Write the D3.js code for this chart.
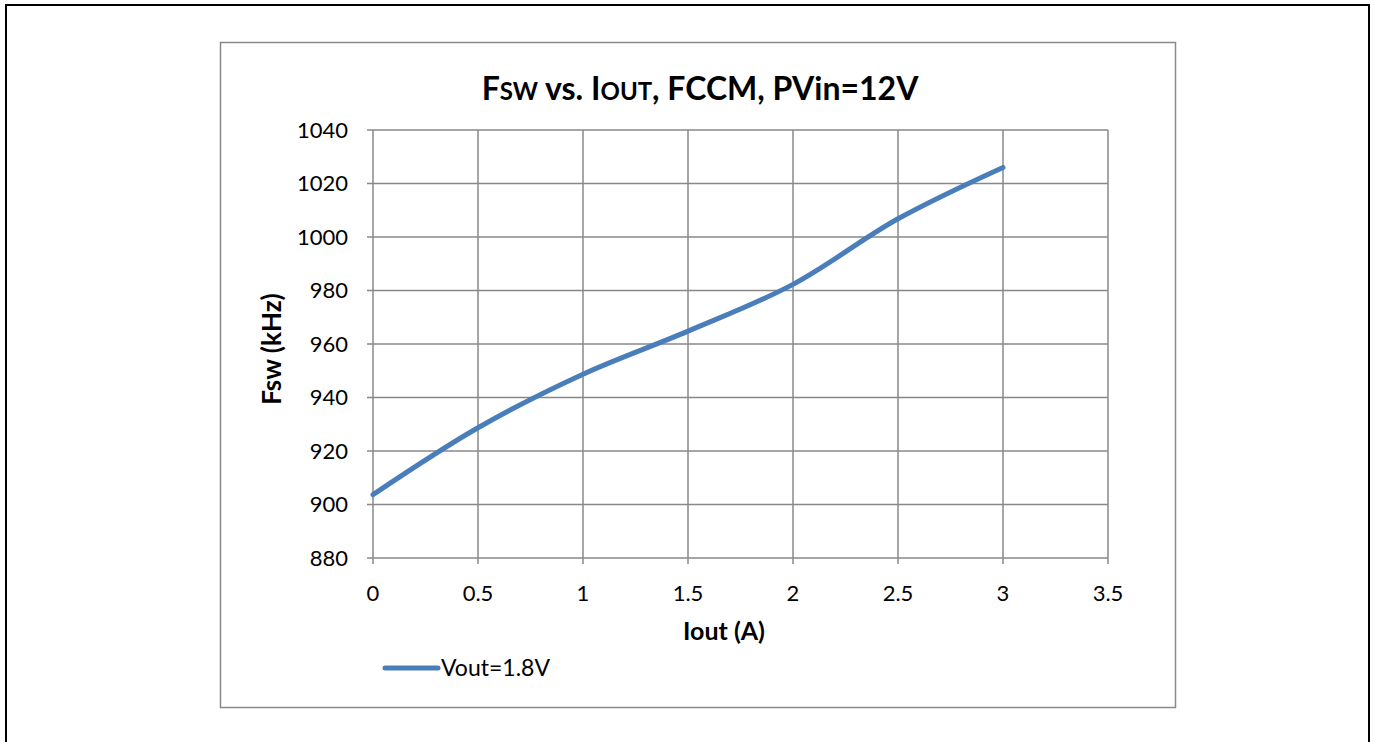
<!DOCTYPE html>
<html>
<head>
    <meta charset="utf-8" />
    <title>Fsw vs. Iout</title>
    <script src="https://cdn.jsdelivr.net/npm/d3@7"></script>
    <style>
        body { margin: 0; background: #fff; }
        svg text { font-family: Lato, "Open Sans", sans-serif; fill: #000; }
    </style>
</head>
<body>
    <svg width="1375" height="742"></svg>
    <script>
        // data
        var iout = [0, 0.5, 1, 1.5, 2, 2.5, 3];
        var fsw = [903.7, 928.7, 948.7, 964.8, 982.3, 1006.8, 1026];
        var xTicks = [0, 0.5, 1, 1.5, 2, 2.5, 3, 3.5];
        var yTicks = [880, 900, 920, 940, 960, 980, 1000, 1020, 1040];
        var seriesName = 'Vout=1.8V';

        var svg = d3.select('svg');

        // outer page frame and chart box
        svg.append('rect').attr('x', 6).attr('y', 5).attr('width', 1363).attr('height', 760)
            .attr('fill', 'none').attr('stroke', '#000').attr('stroke-width', 2);
        svg.append('rect').attr('x', 220.5).attr('y', 42.5).attr('width', 955).attr('height', 665)
            .attr('fill', '#fff').attr('stroke', '#898989').attr('stroke-width', 1.5);

        var x = d3.scaleLinear().domain([0, 3.5]).range([373, 1108]);
        var y = d3.scaleLinear().domain([880, 1040]).range([558, 130]);

        // gridlines
        svg.append('g').selectAll('line').data(xTicks).enter().append('line')
            .attr('x1', function (d) { return x(d); }).attr('x2', function (d) { return x(d); })
            .attr('y1', y(1040)).attr('y2', y(880) + 6)
            .attr('stroke', '#888').attr('stroke-width', 1.5);
        svg.append('g').selectAll('line').data(yTicks).enter().append('line')
            .attr('x1', x(0) - 6).attr('x2', x(3.5))
            .attr('y1', function (d) { return y(d); }).attr('y2', function (d) { return y(d); })
            .attr('stroke', '#888').attr('stroke-width', 1.5);

        // tick labels
        svg.append('g').selectAll('text').data(yTicks).enter().append('text')
            .attr('x', 348).attr('y', function (d) { return y(d); })
            .attr('dy', '0.35em').attr('text-anchor', 'end')
            .style('font-size', '22px').text(function (d) { return d; });
        svg.append('g').selectAll('text').data(xTicks).enter().append('text')
            .attr('x', function (d) { return x(d); }).attr('y', 593)
            .attr('dy', '0.35em').attr('text-anchor', 'middle')
            .style('font-size', '22px').text(function (d) { return d; });

        // series
        var line = d3.line()
            .x(function (d, i) { return x(iout[i]); })
            .y(function (d) { return y(d); })
            .curve(d3.curveCatmullRom.alpha(0.5));
        svg.append('path').datum(fsw).attr('d', line)
            .attr('fill', 'none').attr('stroke', '#4A7EBB').attr('stroke-width', 5)
            .attr('stroke-linecap', 'round');

        // title with small caps subscripts
        var title = svg.append('text').attr('x', 700).attr('y', 100).attr('text-anchor', 'middle')
            .style('font-size', '32px').style('font-weight', 'bold');
        title.append('tspan').text('F');
        title.append('tspan').style('font-size', '24px').text('SW');
        title.append('tspan').text(' vs. I');
        title.append('tspan').style('font-size', '24px').text('OUT');
        title.append('tspan').text(', FCCM, PVin=12V');

        // axis titles
        svg.append('text').attr('transform', 'translate(272,349) rotate(-90)')
            .attr('dy', '0.35em')
            .attr('text-anchor', 'middle').style('font-size', '26px').style('font-weight', 'bold')
            .text('Fsw (kHz)');
        svg.append('text').attr('x', 724).attr('y', 631).attr('dy', '0.35em')
            .attr('text-anchor', 'middle').style('font-size', '25px').style('font-weight', 'bold')
            .text('Iout (A)');

        // legend
        svg.append('line').attr('x1', 385).attr('x2', 438).attr('y1', 668).attr('y2', 668)
            .attr('stroke', '#4A7EBB').attr('stroke-width', 5).attr('stroke-linecap', 'round');
        svg.append('text').attr('x', 441).attr('y', 668).attr('dy', '0.35em')
            .style('font-size', '23px').text(seriesName);
    </script>
</body>
</html>
